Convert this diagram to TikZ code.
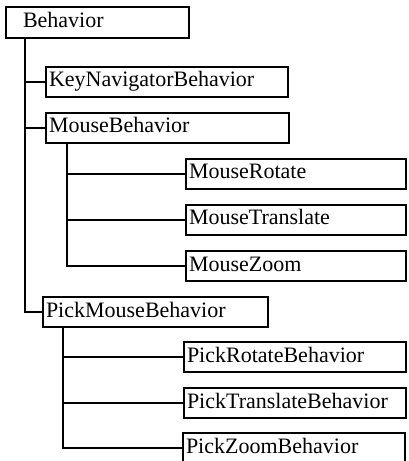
\documentclass[tikz,border=0pt]{standalone}
\usepackage{fontspec}
\setmainfont{Liberation Serif}
\begin{document}
\begin{tikzpicture}[x=1bp,y=-1bp,
  box/.style={draw, line width=1.5bp, anchor=north west, outer sep=0pt,
    text height=15bp, text depth=5bp, inner ysep=5bp, inner xsep=3bp,
    align=left, font=\fontsize{22bp}{24bp}\selectfont},
  link/.style={line width=1.5bp, line join=miter}]
\useasboundingbox (0,0) rectangle (408,461);
% boxes
\node[box, text width=177bp, minimum height=31bp] (b) at (6,7) {\hspace*{14bp}Behavior};
\node[box, text width=236bp] (kn) at (46,67) {KeyNavigatorBehavior};
\node[box, text width=237bp] (m) at (46,113) {MouseBehavior};
\node[box, text width=214bp] (mr) at (186,159) {MouseRotate};
\node[box, text width=214bp] (mt) at (186,205) {MouseTranslate};
\node[box, text width=214bp] (mz) at (186,251) {MouseZoom};
\node[box, text width=219bp] (pm) at (43,297) {PickMouseBehavior};
\node[box, text width=216bp] (pr) at (184,342) {PickRotateBehavior};
\node[box, text width=216bp] (pt) at (184,388) {PickTranslateBehavior};
\node[box, text width=216bp] (pz) at (183,433) {PickZoomBehavior};
% trunks
\coordinate (t1) at ([xshift=19bp]b.south west);
\coordinate (t2) at ([xshift=21bp]m.south west);
\coordinate (t3) at ([xshift=20bp]pm.south west);
\draw[link] (t1) |- (pm.west);
\draw[link] (kn.west -| t1) -- (kn.west);
\draw[link] (m.west -| t1) -- (m.west);
\draw[link] (t2) |- (mz.west);
\draw[link] (mr.west -| t2) -- (mr.west);
\draw[link] (mt.west -| t2) -- (mt.west);
\draw[link] (t3) |- (pz.west);
\draw[link] (pr.west -| t3) -- (pr.west);
\draw[link] (pt.west -| t3) -- (pt.west);
\end{tikzpicture}
\end{document}
